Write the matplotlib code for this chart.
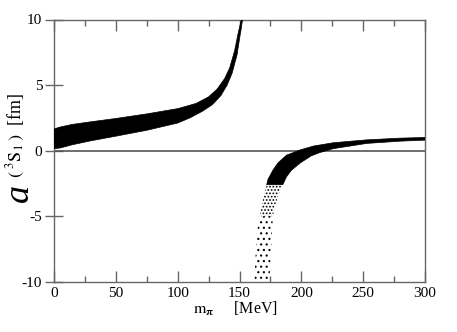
import matplotlib
matplotlib.use("Agg")
import matplotlib.pyplot as plt
import numpy as np

plt.rcParams['mathtext.fontset'] = 'stix'
plt.rcParams['font.family'] = ['Liberation Serif', 'DejaVu Serif']
plt.rcParams['hatch.linewidth'] = 0.8

# Left branch (below the pole) : band edges
left_upper_m = [0, 5, 15, 30, 50, 75, 100, 115, 125, 132, 138, 142, 146, 149, 151.5]
left_upper_a = [1.65, 1.8, 2.0, 2.2, 2.45, 2.8, 3.2, 3.6, 4.1, 4.7, 5.5, 6.3, 7.6, 9.0, 10.0]
left_lower_m = [152.5, 150.5, 148, 144, 140, 135, 128, 120, 110, 100, 75, 50, 30, 15, 5, 0]
left_lower_a = [10.0, 8.8, 7.3, 5.9, 5.0, 4.2, 3.5, 3.0, 2.5, 2.1, 1.55, 1.1, 0.75, 0.45, 0.2, 0.15]

# Right branch (above the pole), dense part
right_upper_m = [172, 173, 177, 181, 188, 199, 210, 226, 253, 280, 300]
right_upper_a = [-2.6, -2.2, -1.5, -0.95, -0.35, 0.05, 0.35, 0.6, 0.82, 0.95, 1.0]
right_lower_m = [300, 280, 253, 226, 215, 208, 199, 192, 188, 185]
right_lower_a = [0.8, 0.72, 0.55, 0.15, -0.15, -0.4, -0.95, -1.5, -2.0, -2.6]

# Right branch, medium-density part
medium_left_m = [166.5, 168, 169.5, 172]
medium_left_a = [-5.0, -4.2, -3.5, -2.6]
medium_right_m = [185, 181, 178.5, 177]
medium_right_a = [-2.6, -3.5, -4.3, -5.0]

# Right branch, sparse part near a = -10
sparse_left_m = [162, 163, 164.5, 166.5]
sparse_left_a = [-10, -8, -6, -5.0]
sparse_right_m = [177, 176, 175.5, 174]
sparse_right_a = [-5.0, -6.5, -8, -10]

x_ticks = [0, 50, 100, 150, 200, 250, 300]
y_ticks = [-10, -5, 0, 5, 10]

W, H = 457, 332
fig = plt.figure(figsize=(W / 100, H / 100), dpi=100)
ax = fig.add_axes([54 / W, 1 - 281.7 / H, (425 - 54) / W, (281.7 - 19.5) / H])

ax.fill(left_upper_m + left_lower_m, left_upper_a + left_lower_a,
        facecolor='black', edgecolor='black', linewidth=0.5, zorder=3)
ax.fill(right_upper_m + right_lower_m, right_upper_a + right_lower_a,
        facecolor='black', edgecolor='black', linewidth=0.5, zorder=3)
ax.fill(medium_left_m + medium_right_m, medium_left_a + medium_right_a,
        facecolor='none', edgecolor='black', hatch='.....', linewidth=0, zorder=3)
ax.fill(sparse_left_m + sparse_right_m, sparse_left_a + sparse_right_a,
        facecolor='none', edgecolor='black', hatch='...', linewidth=0, zorder=3)

ax.axhline(0, color='#555555', linewidth=1.2, zorder=2)

ax.set_xlim(0, 300)
ax.set_ylim(-10, 10)
ax.set_xticks(x_ticks)
ax.set_xticks([25, 75, 125, 175, 225, 275], minor=True)
ax.set_yticks(y_ticks)
ax.set_xticklabels([str(v) for v in x_ticks])
ax.set_yticklabels([str(v) for v in y_ticks])

for s in ax.spines.values():
    s.set_color('#666666')
    s.set_linewidth(1.0)

ax.tick_params(axis='x', which='major', direction='in', length=8, width=1.0,
               color='#666666', top=True, bottom=True, labelsize=11, pad=4)
ax.tick_params(axis='x', which='minor', direction='in', length=4.5, width=1.0,
               color='#666666', top=True, bottom=True)
ax.tick_params(axis='y', which='major', direction='inout', length=13, width=1.0,
               color='#666666', left=True, right=False, labelsize=11, pad=2)

fig.text(235 / W, 1 - 309 / H, r'$\mathrm{m}_{\mathbf{\pi}}$     [MeV]',
         ha='center', va='center', fontsize=11.5)
fig.text(3 / W, 1 - 193 / H, 'a', rotation=90, ha='left', va='center',
         fontsize=26, style='italic')
fig.text(16 / W, 1 - 135 / H, r'$(\;^{3}\mathrm{S}_{1}\;)$  [fm]', rotation=90,
         ha='center', va='center', fontsize=13)

fig.savefig('out.png', dpi=100)
